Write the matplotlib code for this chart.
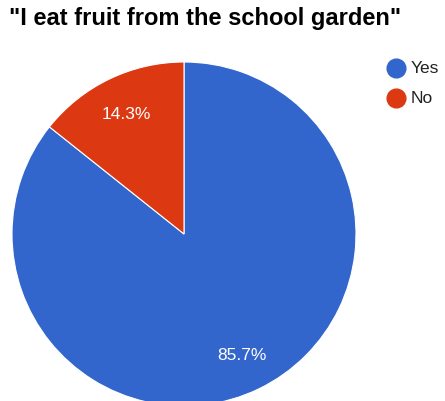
import matplotlib
matplotlib.use("Agg")
import matplotlib.pyplot as plt
from matplotlib.lines import Line2D

# survey answers
labels = ["Yes", "No"]
shares = [85.7, 14.3]
colors = ["#3366CC", "#DC3912"]
title = '"I eat fruit from the school garden"'

plt.rcParams["font.family"] = ["Liberation Sans", "DejaVu Sans"]

W, H = 445, 402
fig = plt.figure(figsize=(W / 100, H / 100), dpi=100)

# pie centred at (184, 235) px with radius 172 px, bottom runs off the canvas
cx, cy, r = 184, 235, 172
ax = fig.add_axes([(cx - r) / W, (H - cy - r) / H, 2 * r / W, 2 * r / H])
wedges, texts, autotexts = ax.pie(
    shares,
    colors=colors,
    startangle=90,
    counterclock=False,
    autopct="%.1f%%",
    pctdistance=0.775,
    wedgeprops={"edgecolor": "white", "linewidth": 0.8},
    textprops={"color": "white", "fontsize": 12.5},
)
ax.set_xlim(-1, 1)
ax.set_ylim(-1, 1)
ax.set_aspect("equal")

fig.text(9 / W, 1 - 19 / H, title, fontsize=17, fontweight="bold",
         ha="left", va="center", color="#000000")

# legend: coloured dots with labels to their right
for i, (lab, c) in enumerate(zip(labels, colors)):
    y = 69 + 30 * i
    fig.add_artist(Line2D([396 / W], [1 - y / H], marker="o", markersize=13.5,
                          markerfacecolor=c, markeredgecolor=c,
                          transform=fig.transFigure))
    fig.text(411 / W, 1 - y / H, lab, fontsize=12.5, ha="left", va="center",
             color="#222222")

fig.savefig("out.png", dpi=100)
